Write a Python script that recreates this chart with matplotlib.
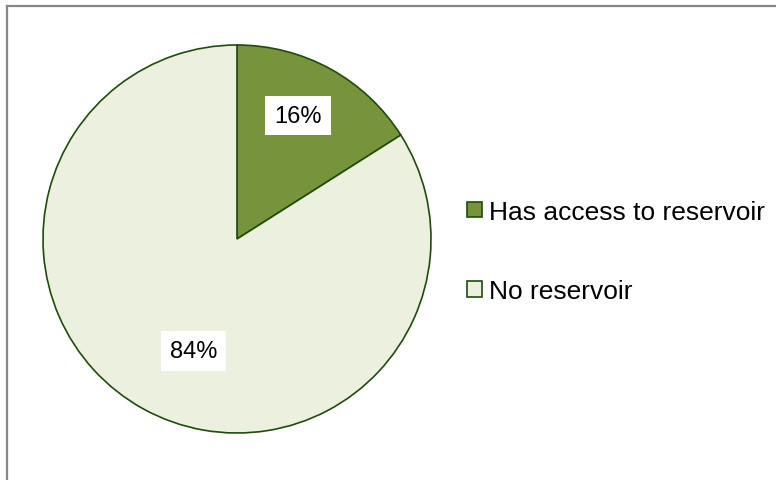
import matplotlib.pyplot as plt
from matplotlib.patches import Patch
from matplotlib.lines import Line2D
import numpy as np

plt.rcParams['font.family'] = ['Liberation Sans', 'DejaVu Sans']

# data
categories = ['Has access to reservoir', 'No reservoir']
shares = [16, 84]
colors = ['#77933C', '#EBF1DE']
edge = '#1E4D0B'

fig = plt.figure(figsize=(7.76, 4.81), dpi=100)

# pie axes: square area so the pie fills it
ax = fig.add_axes([43/776, 47/481, 388/776, 388/481])
wedges, texts, autotexts = ax.pie(shares, colors=colors, startangle=90, counterclock=False,
                                  autopct='%1.0f%%', pctdistance=0.7,
                                  wedgeprops=dict(edgecolor=edge, linewidth=1.2),
                                  textprops=dict(fontsize=17, color='black'))
ax.set_xlim(-1.0, 1.0)
ax.set_ylim(-1.0, 1.0)
ax.set_aspect('equal')

# Excel-like "best fit" label placement, white label boxes
dist = [0.71, 0.62]
shift = [2.5, 7.5]   # degrees
for w, t, d, s in zip(wedges, autotexts, dist, shift):
    mid = np.deg2rad((w.theta1 + w.theta2) / 2 + s)
    t.set_position((d * np.cos(mid), d * np.sin(mid)))
    t.set_bbox(dict(facecolor='white', edgecolor='none', boxstyle='square,pad=0.38'))

handles = [Patch(facecolor=c, edgecolor=edge, linewidth=1.2) for c in colors]
fig.legend(handles, categories, loc='center left', bbox_to_anchor=(467/776, 0.475),
           frameon=False, fontsize=19, handlelength=0.55, handleheight=0.55,
           handletextpad=0.3, labelspacing=2.1, borderpad=0, borderaxespad=0)

# chart area border (only top and left visible in the crop)
fig.add_artist(Line2D([7/776, 1], [1 - 7/481, 1 - 7/481], color='#888888', lw=1.6,
                      transform=fig.transFigure))
fig.add_artist(Line2D([7/776, 7/776], [0, 1 - 7/481], color='#888888', lw=1.6,
                      transform=fig.transFigure))

fig.savefig('out.png', dpi=100)
